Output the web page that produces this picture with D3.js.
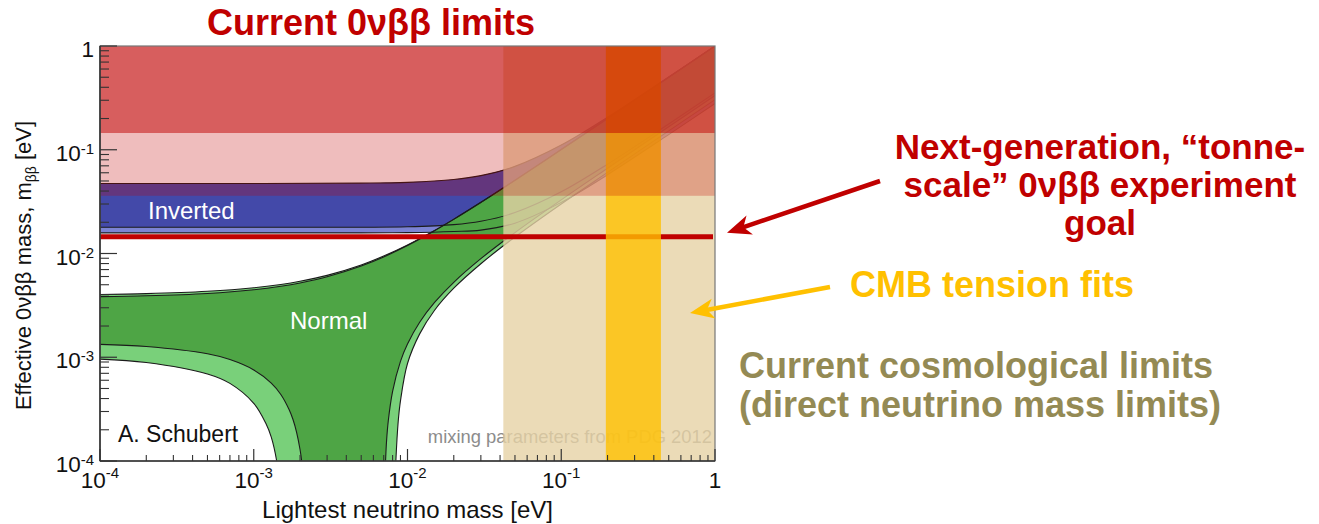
<!DOCTYPE html>
<html>
<head>
<meta charset="utf-8">
<script src="https://cdn.jsdelivr.net/npm/d3@7"></script>
<style>
  body { margin: 0; background: #fff; }
  svg { display: block; }
  text { font-family: "Liberation Sans", Arial, Helvetica, sans-serif; }
</style>
</head>
<body>
<svg id="chart" width="1319" height="524"></svg>
<script>
// ---- axis ticks ----
const decadeTicks = [1e-4, 1e-3, 1e-2, 1e-1, 1];
const decadeExponents = ["-4", "-3", "-2", "-1", ""];

// ---- normal ordering: effective mass band vs lightest mass ----
const normalTopM      = [1e-4, 2e-4, 5e-4, 1e-3, 1.5e-3, 2e-3, 3e-3, 5e-3, 7e-3, 1e-2, 1.5e-2, 2e-2, 3e-2, 5e-2, 0.1, 0.2, 0.5, 1];
const normalMaxBest   = [0.00384, 0.00391, 0.00412, 0.00447, 0.00483, 0.00520, 0.00596, 0.00757, 0.00926, 0.01193, 0.01657, 0.02133, 0.03103, 0.05071, 0.1004, 0.2002, 0.5001, 1.0];
const normalMaxWide   = [0.00403, 0.00410, 0.00432, 0.00467, 0.00503, 0.00540, 0.00615, 0.00775, 0.00945, 0.01210, 0.01670, 0.02145, 0.03115, 0.0508, 0.1005, 0.2003, 0.5002, 1.0];

const normalLowLeftM      = [1e-4, 2e-4, 5e-4, 7e-4, 1e-3, 1.3e-3, 1.5e-3, 1.7e-3, 1.8e-3, 1.9e-3, 2e-3, 2.05e-3, 2.1e-3];
const normalMinLeftBest   = [0.00133, 0.00127, 0.00108, 0.00095, 0.000755, 0.000564, 0.000438, 0.000312, 0.000251, 0.000189, 0.000129, 0.0001, 0.000068];
const normalLowLeftWideM  = [1e-4, 2e-4, 5e-4, 7e-4, 1e-3, 1.2e-3, 1.3e-3, 1.41e-3, 1.45e-3];
const normalMinLeftWide   = [0.00096, 0.00089, 0.00069, 0.00056, 0.00036, 0.00023, 0.00017, 0.0001, 0.00007];

const normalLowRightM     = [7.1e-3, 7.2e-3, 7.3e-3, 7.5e-3, 8e-3, 9e-3, 1e-2, 1.2e-2, 1.5e-2, 2e-2, 3e-2, 5e-2, 0.1, 0.2, 0.5, 1];
const normalMinRightBest  = [0.00006, 0.0001, 0.000152, 0.000244, 0.000469, 0.000914, 0.001344, 0.002177, 0.003375, 0.00528, 0.008917, 0.015905, 0.032879, 0.06636, 0.16633, 0.33282];
const normalLowRightWideM = [8.3e-3, 8.4e-3, 8.7e-3, 9e-3, 1e-2, 1.2e-2, 1.5e-2, 2e-2, 3e-2, 5e-2, 0.1, 0.2, 0.5, 1];
const normalMinRightWide  = [0.00006, 0.0001, 0.00024, 0.00038, 0.00087, 0.00168, 0.00284, 0.00463, 0.00797, 0.0144, 0.0300, 0.0605, 0.152, 0.304];

// ---- inverted ordering ----
const invertedM        = [1e-4, 1e-3, 5e-3, 1e-2, 2e-2, 3e-2, 5e-2, 0.1, 0.2, 0.5, 1];
const invertedMaxBest  = [0.0473, 0.0473, 0.04766, 0.04853, 0.05164, 0.05634, 0.06915, 0.1109, 0.2056, 0.5023, 1.0012];
const invertedMinBest  = [0.01793, 0.01791, 0.01791, 0.01808, 0.01897, 0.02047, 0.0248, 0.0393, 0.0726, 0.1772, 0.3530];
const invertedMinWide  = [0.0158, 0.0158, 0.0158, 0.0159, 0.0163, 0.0168, 0.0196, 0.0311, 0.0574, 0.140, 0.279];

// ---- experimental / cosmological regions (eV) ----
const currentLimitBands = [[0.036, 1], [0.145, 1]];   // 0νββ exclusion, two confidence shades
const tonneScaleGoal    = 0.0145;
const cosmologyExcluded = [0.042, 1];
const cmbTensionRange   = [0.195, 0.445];

// ---- geometry ----
const W = 1319, H = 524;
const plot = { left: 100, right: 715, top: 46, bottom: 461 };
const x = d3.scaleLog().domain([1e-4, 1]).range([plot.left, plot.right]);
const y = d3.scaleLog().domain([1e-4, 1]).range([plot.bottom, plot.top]);

const svg = d3.select("#chart");
svg.append("defs").append("clipPath").attr("id", "plotClip")
  .append("rect")
  .attr("x", plot.left).attr("y", plot.top)
  .attr("width", plot.right - plot.left).attr("height", plot.bottom - plot.top);

const zip = (ms, vs) => ms.map((m, i) => [m, vs[i]]);
const curve = d3.line().x(d => x(d[0])).y(d => y(d[1])).curve(d3.curveCatmullRom.alpha(0.5));

// Closed band outline: upper edge left→right, then each lower piece walked back right→left
function bandPath(upper, lowerPieces) {
  let d = curve(upper);
  lowerPieces.slice().reverse().forEach(p => {
    d += curve(p.slice().reverse()).replace(/^M/, "L");
  });
  return d + "Z";
}

const g = svg.append("g").attr("clip-path", "url(#plotClip)");

// inverted ordering band
g.append("path")
  .attr("d", bandPath(zip(invertedM, invertedMaxBest), [zip(invertedM, invertedMinWide)]))
  .attr("fill", "#7c83d3");
g.append("path")
  .attr("d", bandPath(zip(invertedM, invertedMaxBest), [zip(invertedM, invertedMinBest)]))
  .attr("fill", "#4349a9");

// normal ordering band
g.append("path")
  .attr("d", bandPath(zip(normalTopM, normalMaxWide),
    [zip(normalLowLeftWideM, normalMinLeftWide), zip(normalLowRightWideM, normalMinRightWide)]))
  .attr("fill", "#79d07a");
g.append("path")
  .attr("d", bandPath(zip(normalTopM, normalMaxBest),
    [zip(normalLowLeftM, normalMinLeftBest), zip(normalLowRightM, normalMinRightBest)]))
  .attr("fill", "#4ea545");

// band boundary lines
[
  zip(invertedM, invertedMaxBest), zip(invertedM, invertedMinBest), zip(invertedM, invertedMinWide),
  zip(normalTopM, normalMaxWide), zip(normalTopM, normalMaxBest),
  zip(normalLowLeftM, normalMinLeftBest), zip(normalLowLeftWideM, normalMinLeftWide),
  zip(normalLowRightM, normalMinRightBest), zip(normalLowRightWideM, normalMinRightWide)
].forEach(pts => {
  g.append("path").attr("d", curve(pts))
    .attr("fill", "none").attr("stroke", "#1b1b1b").attr("stroke-width", 1.1);
});

// in-plot labels
g.append("text").attr("x", 148).attr("y", 219).attr("font-size", 24).attr("fill", "#fff").text("Inverted");
g.append("text").attr("x", 290).attr("y", 329).attr("font-size", 24).attr("fill", "#fff").text("Normal");
g.append("text").attr("x", 118).attr("y", 442).attr("font-size", 23).attr("fill", "#111").text("A. Schubert");
g.append("text").attr("x", 712).attr("y", 443).attr("text-anchor", "end").attr("font-size", 18.4)
  .attr("fill", "#8c8c8c").text("mixing parameters from PDG 2012");

// cosmological exclusion
g.append("rect")
  .attr("x", x(cosmologyExcluded[0])).attr("y", plot.top)
  .attr("width", x(cosmologyExcluded[1]) - x(cosmologyExcluded[0]))
  .attr("height", plot.bottom - plot.top)
  .attr("fill", "rgb(230,210,165)").attr("fill-opacity", 0.8);

// tonne-scale goal line
g.append("line")
  .attr("x1", x(1e-4)).attr("x2", x(1) - 2)
  .attr("y1", y(tonneScaleGoal)).attr("y2", y(tonneScaleGoal))
  .attr("stroke", "#c00000").attr("stroke-width", 5);

// CMB tension fits
g.append("rect")
  .attr("x", x(cmbTensionRange[0])).attr("y", plot.top)
  .attr("width", x(cmbTensionRange[1]) - x(cmbTensionRange[0]))
  .attr("height", plot.bottom - plot.top)
  .attr("fill", "#ffc000").attr("fill-opacity", 0.8);

// current 0νββ limits
const bandOpacity = [0.26, 0.5];
currentLimitBands.forEach((b, i) => {
  g.append("rect")
    .attr("x", plot.left).attr("width", plot.right - plot.left)
    .attr("y", y(b[1])).attr("height", y(b[0]) - y(b[1]))
    .attr("fill", "#c00000").attr("fill-opacity", bandOpacity[i]);
});

// ---- frame, ticks, labels ----
const axisG = svg.append("g");
axisG.append("rect")
  .attr("x", plot.left).attr("y", plot.top)
  .attr("width", plot.right - plot.left).attr("height", plot.bottom - plot.top)
  .attr("fill", "none").attr("stroke", "#777").attr("stroke-width", 1.2);
axisG.append("line").attr("x1", plot.left).attr("x2", plot.left).attr("y1", plot.top).attr("y2", plot.bottom)
  .attr("stroke", "#333").attr("stroke-width", 1.6);
axisG.append("line").attr("x1", plot.left).attr("x2", plot.right).attr("y1", plot.bottom).attr("y2", plot.bottom)
  .attr("stroke", "#333").attr("stroke-width", 1.6);

const minorTicks = [];
decadeTicks.slice(0, -1).forEach(d => { for (let k = 2; k <= 9; k++) minorTicks.push(d * k); });

decadeTicks.forEach(t => {
  axisG.append("line").attr("x1", plot.left).attr("x2", plot.left + 17).attr("y1", y(t)).attr("y2", y(t))
    .attr("stroke", "#333").attr("stroke-width", 1.2);
  axisG.append("line").attr("x1", x(t)).attr("x2", x(t)).attr("y1", plot.bottom).attr("y2", plot.bottom - 12)
    .attr("stroke", "#333").attr("stroke-width", 1.2);
});
minorTicks.forEach(t => {
  axisG.append("line").attr("x1", plot.left).attr("x2", plot.left + 9).attr("y1", y(t)).attr("y2", y(t))
    .attr("stroke", "#333").attr("stroke-width", 1.1);
  axisG.append("line").attr("x1", x(t)).attr("x2", x(t)).attr("y1", plot.bottom).attr("y2", plot.bottom - 6)
    .attr("stroke", "#333").attr("stroke-width", 1.1);
});

decadeTicks.forEach((t, i) => {
  const exp = decadeExponents[i];
  // y-axis label
  const ty = axisG.append("text").attr("x", 94).attr("y", y(t) + 11)
    .attr("text-anchor", "end").attr("font-size", 22.5).attr("fill", "#111");
  if (exp) {
    ty.append("tspan").text("10");
    ty.append("tspan").attr("dy", -7).attr("font-size", 15).text(exp);
  } else {
    ty.text("1");
  }
  // x-axis label
  const tx = axisG.append("text").attr("x", x(t)).attr("y", 488)
    .attr("text-anchor", "middle").attr("font-size", 22.5).attr("fill", "#111");
  if (exp) {
    tx.append("tspan").text("10");
    tx.append("tspan").attr("dy", -10).attr("font-size", 15).text(exp);
  } else {
    tx.text("1");
  }
});

axisG.append("text").attr("x", (plot.left + plot.right) / 2).attr("y", 518)
  .attr("text-anchor", "middle").attr("font-size", 24).attr("fill", "#111")
  .text("Lightest neutrino mass [eV]");

const yTitle = axisG.append("text")
  .attr("transform", `translate(31,${(plot.top + plot.bottom) / 2 + 12}) rotate(-90)`)
  .attr("text-anchor", "middle").attr("font-size", 22).attr("fill", "#111");
yTitle.append("tspan").text("Effective 0νββ mass, m");
yTitle.append("tspan").attr("dy", 5).attr("font-size", 14).text("ββ");
yTitle.append("tspan").attr("dy", -5).text(" [eV]");

// ---- annotations ----
const ann = svg.append("g").attr("font-weight", "bold").attr("font-size", 35);
ann.append("text").attr("x", 371).attr("y", 35).attr("text-anchor", "middle").attr("font-size", 36)
  .attr("fill", "#c00000").text("Current 0νββ limits");

const goalLines = ["Next-generation, “tonne-", "scale” 0νββ experiment", "goal"];
goalLines.forEach((s, i) => {
  ann.append("text").attr("x", 1100).attr("y", 159 + i * 38).attr("text-anchor", "middle")
    .attr("fill", "#c00000").text(s);
});
ann.append("text").attr("x", 992).attr("y", 297).attr("text-anchor", "middle").attr("font-size", 36)
  .attr("fill", "#ffc000").text("CMB tension fits");
["Current cosmological limits", "(direct neutrino mass limits)"].forEach((s, i) => {
  ann.append("text").attr("x", 739).attr("y", 378 + i * 39).attr("font-size", 36)
    .attr("fill", "#948a54").text(s);
});

function arrow(x1, y1, x2, y2, color) {
  const dx = x2 - x1, dy = y2 - y1, len = Math.hypot(dx, dy);
  const ux = dx / len, uy = dy / len, nx = -uy, ny = ux;
  const L = 24, Wd = 10;
  svg.append("line")
    .attr("x1", x1).attr("y1", y1).attr("x2", x2 - ux * L * 0.7).attr("y2", y2 - uy * L * 0.7)
    .attr("stroke", color).attr("stroke-width", 4.5);
  svg.append("path")
    .attr("d", `M${x2},${y2}L${x2 - ux * L + nx * Wd},${y2 - uy * L + ny * Wd}` +
      `L${x2 - ux * L * 0.72},${y2 - uy * L * 0.72}L${x2 - ux * L - nx * Wd},${y2 - uy * L - ny * Wd}Z`)
    .attr("fill", color);
}
arrow(880, 181, x(1) + 12, y(tonneScaleGoal) - 4, "#c00000");
arrow(830, 287, x(1) - 25, 313, "#ffc000");
</script>
</body>
</html>
